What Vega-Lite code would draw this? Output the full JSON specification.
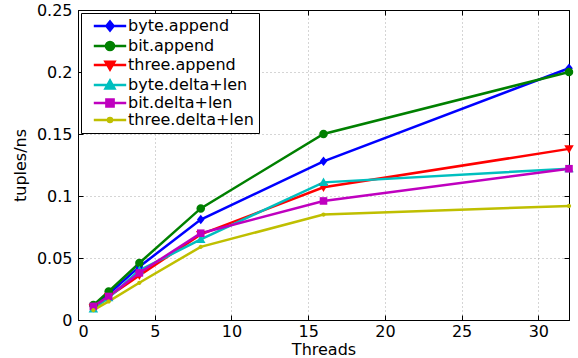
{
  "$schema": "https://vega.github.io/schema/vega-lite/v6.json",
  "width": 491,
  "height": 310,
  "autosize": "none",
  "padding": {"left": 78, "top": 10, "right": 9, "bottom": 38},
  "background": "white",
  "config": {
    "font": "DejaVu Sans",
    "view": {"stroke": "black", "strokeWidth": 1},
    "axis": {
      "domainColor": "black",
      "tickColor": "black",
      "labelColor": "black",
      "titleColor": "black",
      "labelFont": "DejaVu Sans",
      "titleFont": "DejaVu Sans",
      "labelFontSize": 16,
      "titleFontSize": 16,
      "titleFontWeight": "normal",
      "tickSize": -5,
      "gridColor": "#aaaaaa",
      "gridDash": [1, 3],
      "gridOpacity": 1
    },
    "legend": {
      "labelFont": "DejaVu Sans",
      "labelFontSize": 16,
      "labelColor": "black",
      "orient": "top-left",
      "offset": 3,
      "strokeColor": "black",
      "fillColor": "white",
      "padding": 5,
      "symbolOffset": 16,
      "labelOffset": 10,
      "rowPadding": 0
    }
  },
  "data": {
    "values": [
      {"t": 1, "v": 0.011, "s": "byte.append"},
      {"t": 2, "v": 0.021, "s": "byte.append"},
      {"t": 4, "v": 0.043, "s": "byte.append"},
      {"t": 8, "v": 0.081, "s": "byte.append"},
      {"t": 16, "v": 0.128, "s": "byte.append"},
      {"t": 32, "v": 0.203, "s": "byte.append"},
      {"t": 1, "v": 0.012, "s": "bit.append"},
      {"t": 2, "v": 0.023, "s": "bit.append"},
      {"t": 4, "v": 0.046, "s": "bit.append"},
      {"t": 8, "v": 0.090, "s": "bit.append"},
      {"t": 16, "v": 0.150, "s": "bit.append"},
      {"t": 32, "v": 0.200, "s": "bit.append"},
      {"t": 1, "v": 0.010, "s": "three.append"},
      {"t": 2, "v": 0.019, "s": "three.append"},
      {"t": 4, "v": 0.036, "s": "three.append"},
      {"t": 8, "v": 0.069, "s": "three.append"},
      {"t": 16, "v": 0.107, "s": "three.append"},
      {"t": 32, "v": 0.138, "s": "three.append"},
      {"t": 1, "v": 0.009, "s": "byte.delta+len"},
      {"t": 2, "v": 0.018, "s": "byte.delta+len"},
      {"t": 4, "v": 0.040, "s": "byte.delta+len"},
      {"t": 8, "v": 0.065, "s": "byte.delta+len"},
      {"t": 16, "v": 0.111, "s": "byte.delta+len"},
      {"t": 32, "v": 0.122, "s": "byte.delta+len"},
      {"t": 1, "v": 0.011, "s": "bit.delta+len"},
      {"t": 2, "v": 0.019, "s": "bit.delta+len"},
      {"t": 4, "v": 0.038, "s": "bit.delta+len"},
      {"t": 8, "v": 0.070, "s": "bit.delta+len"},
      {"t": 16, "v": 0.096, "s": "bit.delta+len"},
      {"t": 32, "v": 0.122, "s": "bit.delta+len"},
      {"t": 1, "v": 0.008, "s": "three.delta+len"},
      {"t": 2, "v": 0.015, "s": "three.delta+len"},
      {"t": 4, "v": 0.030, "s": "three.delta+len"},
      {"t": 8, "v": 0.059, "s": "three.delta+len"},
      {"t": 16, "v": 0.085, "s": "three.delta+len"},
      {"t": 32, "v": 0.092, "s": "three.delta+len"}
    ]
  },
  "resolve": {"axis": {"x": "independent", "y": "independent"}},
  "layer": [
    {
      "mark": {"type": "line", "strokeWidth": 2.5},
      "encoding": {
        "x": {
          "field": "t", "type": "quantitative",
          "scale": {"domain": [0, 32], "nice": false},
          "axis": {"title": "Threads", "values": [0, 5, 10, 15, 20, 25, 30], "grid": true, "labelPadding": 8, "titlePadding": 2, "format": "d"}
        },
        "y": {
          "field": "v", "type": "quantitative",
          "scale": {"domain": [0, 0.25], "nice": false},
          "axis": {"title": "tuples/ns", "values": [0, 0.05, 0.1, 0.15, 0.2, 0.25], "grid": true, "format": "~g", "labelPadding": 11, "titlePadding": 8}
        },
        "color": {
          "field": "s", "type": "nominal",
          "scale": {
            "domain": ["byte.append", "bit.append", "three.append", "byte.delta+len", "bit.delta+len", "three.delta+len"],
            "range": ["#0000ff", "#008000", "#ff0000", "#00bfbf", "#bf00bf", "#bfbf00"]
          },
          "legend": {
            "title": null,
            "symbolType": {"expr": "'M-3.6,0H3.6' + (datum.value === 'byte.append' ? 'M0,-1L0.8,0L0,1L-0.8,0Z' : datum.value === 'bit.append' ? 'M-0.9,0A0.9,0.9,0,1,1,0.9,0A0.9,0.9,0,1,1,-0.9,0Z' : datum.value === 'three.append' ? 'M-1,-0.75L1,-0.75L0,1Z' : datum.value === 'byte.delta+len' ? 'M-1,0.75L1,0.75L0,-1Z' : datum.value === 'bit.delta+len' ? 'M-0.8,-0.8H0.8V0.8H-0.8Z' : 'M-0.45,0A0.45,0.45,0,1,1,0.45,0A0.45,0.45,0,1,1,-0.45,0Z')"},
            "symbolFillColor": {"expr": "scale('color', datum.value)"},
            "symbolStrokeColor": {"expr": "scale('color', datum.value)"},
            "symbolStrokeWidth": 2.5,
            "symbolSize": 81,
            "symbolOpacity": 1
          }
        }
      }
    },
    {
      "transform": [{"filter": "datum.s === 'byte.append'"}],
      "mark": {"type": "point", "filled": true, "size": 90, "opacity": 1, "color": "#0000ff", "shape": "M0,-1L0.8,0L0,1L-0.8,0Z"},
      "encoding": {
        "x": {"field": "t", "type": "quantitative", "axis": {"orient": "top", "title": null, "labels": false, "grid": false, "values": [0, 5, 10, 15, 20, 25, 30]}},
        "y": {"field": "v", "type": "quantitative", "axis": {"orient": "right", "title": null, "labels": false, "grid": false, "values": [0, 0.05, 0.1, 0.15, 0.2, 0.25]}}
      }
    },
    {
      "transform": [{"filter": "datum.s === 'bit.append'"}],
      "mark": {"type": "point", "filled": true, "size": 90, "opacity": 1, "color": "#008000", "shape": "M-0.9,0A0.9,0.9,0,1,1,0.9,0A0.9,0.9,0,1,1,-0.9,0Z"},
      "encoding": {
        "x": {"field": "t", "type": "quantitative", "axis": null},
        "y": {"field": "v", "type": "quantitative", "axis": null}
      }
    },
    {
      "transform": [{"filter": "datum.s === 'three.append'"}],
      "mark": {"type": "point", "filled": true, "size": 90, "opacity": 1, "color": "#ff0000", "shape": "M-1,-0.75L1,-0.75L0,1Z"},
      "encoding": {
        "x": {"field": "t", "type": "quantitative", "axis": null},
        "y": {"field": "v", "type": "quantitative", "axis": null}
      }
    },
    {
      "transform": [{"filter": "datum.s === 'byte.delta+len'"}],
      "mark": {"type": "point", "filled": true, "size": 90, "opacity": 1, "color": "#00bfbf", "shape": "M-1,0.75L1,0.75L0,-1Z"},
      "encoding": {
        "x": {"field": "t", "type": "quantitative", "axis": null},
        "y": {"field": "v", "type": "quantitative", "axis": null}
      }
    },
    {
      "transform": [{"filter": "datum.s === 'bit.delta+len'"}],
      "mark": {"type": "point", "filled": true, "size": 90, "opacity": 1, "color": "#bf00bf", "shape": "M-0.8,-0.8H0.8V0.8H-0.8Z"},
      "encoding": {
        "x": {"field": "t", "type": "quantitative", "axis": null},
        "y": {"field": "v", "type": "quantitative", "axis": null}
      }
    },
    {
      "transform": [{"filter": "datum.s === 'three.delta+len'"}],
      "mark": {"type": "point", "filled": true, "size": 90, "opacity": 1, "color": "#bfbf00", "shape": "M-0.45,0A0.45,0.45,0,1,1,0.45,0A0.45,0.45,0,1,1,-0.45,0Z"},
      "encoding": {
        "x": {"field": "t", "type": "quantitative", "axis": null},
        "y": {"field": "v", "type": "quantitative", "axis": null}
      }
    }
  ]
}
